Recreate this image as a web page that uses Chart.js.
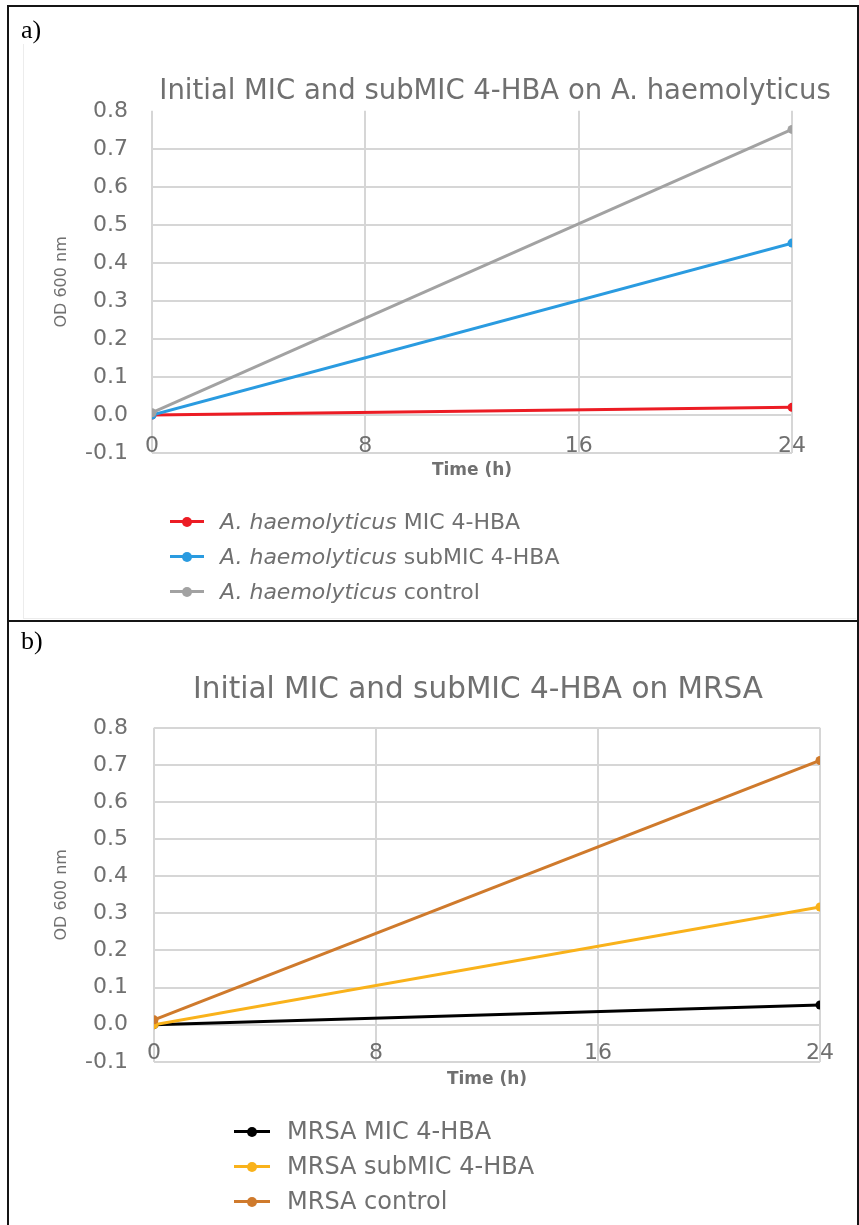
<!DOCTYPE html>
<html>
<head>
<meta charset="utf-8">
<script src="https://cdn.jsdelivr.net/npm/chart.js@4.4.1/dist/chart.umd.min.js"></script>
<style>
  html, body { margin: 0; padding: 0; background: #fff; width: 859px; height: 1225px; overflow: hidden; }
  #page { position: relative; width: 859px; height: 1225px; }
  .frame { position: absolute; left: 7px; top: 5px; width: 848px; height: 1240px; border: 2px solid #151515; }
  .divider { position: absolute; left: 7px; top: 620px; width: 852px; height: 2px; background: #151515; }
  .excel-frame { position: absolute; left: 23px; top: 44px; width: 832px; height: 574px;
                 border-left: 1px solid #ececec; border-bottom: 1px solid #ececec; }
  .tag { position: absolute; left: 21px; font-family: "Liberation Serif", serif; font-size: 26px; color: #000; line-height: 30px; }
  canvas { position: absolute; left: 0; }
  .legend { position: absolute; font-family: "DejaVu Sans", sans-serif; color: #707070; }
  .item { position: relative; height: 35px; line-height: 35px; white-space: nowrap; }
  .swatch { position: absolute; left: 0; top: 16px; height: 3px; }
  .swatch::after { content: ""; position: absolute; top: -3.5px; width: 10px; height: 10px; border-radius: 50%; background: inherit; }
  .txt { position: absolute; top: 0; }
</style>
</head>
<body>
<div id="page">
  <div class="excel-frame"></div>
  <canvas id="chartA" width="859" height="500" style="top:0px"></canvas>
  <canvas id="chartB" width="859" height="480" style="top:621px"></canvas>
  <div class="frame"></div>
  <div class="divider"></div>
  <div class="tag" style="top:15px">a)</div>
  <div class="tag" style="top:626px">b)</div>
  <div class="legend" id="legendA" style="left:170px; top:504px; font-size:22px"></div>
  <div class="legend" id="legendB" style="left:234px; top:1114px; font-size:24px"></div>
</div>
<script>
// Sampling times (h) and axis ticks
const timeHours = [0, 24];
const timeTicks = [0, 8, 16, 24];
const odTicks = [-0.1, 0, 0.1, 0.2, 0.3, 0.4, 0.5, 0.6, 0.7, 0.8];

// a) A. haemolyticus, OD600
const haemSpecies = 'A. haemolyticus';
const haemLabels = ['A. haemolyticus MIC 4-HBA', 'A. haemolyticus subMIC 4-HBA', 'A. haemolyticus control'];
const haemMIC = [0.000, 0.020];
const haemSubMIC = [0.000, 0.452];
const haemControl = [0.006, 0.751];

// b) MRSA, OD600
const mrsaLabels = ['MRSA MIC 4-HBA', 'MRSA subMIC 4-HBA', 'MRSA control'];
const mrsaMIC = [0.000, 0.053];
const mrsaSubMIC = [0.000, 0.317];
const mrsaControl = [0.013, 0.712];

const TEXT = '#707070';
const GRID = '#d6d6d6';
const FONT = '"DejaVu Sans", sans-serif';

function series(label, values, color, order) {
  return {
    label,
    data: timeHours.map((t, i) => ({ x: t, y: values[i] })),
    borderColor: color,
    backgroundColor: color,
    pointBackgroundColor: color,
    pointBorderWidth: 0,
    pointRadius: 4.5,
    borderWidth: 3,
    order
  };
}

// Centre the chart title on a chosen x position of the panel rather than on the plot area
const panelTitle = {
  id: 'panelTitle',
  afterLayout(chart, args, opts) {
    const t = chart.titleBlock;
    if (!t || opts.centerX == null) return;
    t.left = opts.centerX - 420;
    t.right = opts.centerX + 420;
  }
};

function buildChart(canvas, cfg) {
  return new Chart(canvas, {
    type: 'line',
    data: { datasets: cfg.datasets },
    plugins: [panelTitle],
    options: {
      responsive: false,
      animation: false,
      devicePixelRatio: 1,
      layout: { padding: cfg.padding },
      plugins: {
        legend: { display: false },
        tooltip: { enabled: false },
        title: {
          display: true,
          text: cfg.title,
          color: TEXT,
          font: { family: FONT, size: cfg.titleSize, weight: 'normal' },
          padding: { top: 0, bottom: cfg.titleGap }
        },
        panelTitle: { centerX: cfg.titleCenter }
      },
      scales: {
        x: {
          type: 'linear',
          min: 0,
          max: 24,
          afterBuildTicks: s => { s.ticks = timeTicks.map(v => ({ value: v })); },
          afterFit: s => { s.height = 28; },
          grid: { color: GRID, lineWidth: 2, drawTicks: false },
          border: { display: false },
          // labels sit just above the bottom edge of the plot
          ticks: { color: TEXT, font: { family: FONT, size: 22 }, mirror: true, padding: cfg.xTickPad, maxRotation: 0, autoSkip: false },
          title: { display: true, text: 'Time (h)', color: TEXT, font: { family: FONT, size: 17, weight: 'bold' }, padding: 0 }
        },
        y: {
          type: 'linear',
          min: -0.1,
          max: 0.8,
          afterBuildTicks: s => { s.ticks = odTicks.map(v => ({ value: v })); },
          afterFit: s => { s.width = cfg.yWidth; },
          grid: {
            color: c => (cfg.hideTopGrid && c.tick && Math.abs(c.tick.value - 0.8) < 1e-6) ? 'rgba(0,0,0,0)' : GRID,
            lineWidth: 2,
            drawTicks: false
          },
          border: { display: false },
          ticks: {
            color: TEXT,
            font: { family: FONT, size: 22 },
            padding: cfg.yTickPad,
            callback: v => (Math.abs(v) < 1e-9 ? 0 : v).toFixed(1)
          },
          title: { display: true, text: 'OD 600 nm', color: TEXT, font: { family: FONT, size: 16 }, padding: { top: 12, bottom: 0 } }
        }
      }
    }
  });
}

function buildLegend(el, chart, species, lineLen, textLeft) {
  chart.data.datasets.forEach(ds => {
    const item = document.createElement('div');
    item.className = 'item';
    const sw = document.createElement('div');
    sw.className = 'swatch';
    sw.style.width = lineLen + 'px';
    sw.style.background = ds.borderColor;
    item.appendChild(sw);
    const txt = document.createElement('span');
    txt.className = 'txt';
    txt.style.left = textLeft + 'px';
    if (species && ds.label.startsWith(species)) {
      const it = document.createElement('i');
      it.textContent = species;
      txt.appendChild(it);
      txt.appendChild(document.createTextNode(ds.label.slice(species.length)));
    } else {
      txt.textContent = ds.label;
    }
    item.appendChild(txt);
    el.appendChild(item);
  });
  const dotStyle = document.createElement('style');
  dotStyle.textContent = '#' + el.id + ' .swatch::after{left:' + (lineLen / 2 - 5) + 'px;}';
  document.head.appendChild(dotStyle);
}

const chartA = buildChart(document.getElementById('chartA'), {
  title: 'Initial MIC and subMIC 4-HBA on A. haemolyticus',
  titleSize: 27.5,
  titleCenter: 495,
  titleGap: 2.8,
  padding: { top: 75, left: 40, right: 67, bottom: 19 },
  yWidth: 112,
  yTickPad: 24,
  xTickPad: -6,
  hideTopGrid: true,
  datasets: [
    series(haemLabels[0], haemMIC, '#ec1c24', 3),
    series(haemLabels[1], haemSubMIC, '#2a9be0', 2),
    series(haemLabels[2], haemControl, '#a2a2a2', 1)
  ]
});

const chartB = buildChart(document.getElementById('chartB'), {
  title: 'Initial MIC and subMIC 4-HBA on MRSA',
  titleSize: 29.5,
  titleCenter: 478,
  titleGap: 20.1,
  padding: { top: 51.3, left: 40, right: 39, bottom: 8 },
  yWidth: 114,
  yTickPad: 26,
  xTickPad: -5,
  hideTopGrid: false,
  datasets: [
    series(mrsaLabels[0], mrsaMIC, '#000000', 3),
    series(mrsaLabels[1], mrsaSubMIC, '#f9b21b', 2),
    series(mrsaLabels[2], mrsaControl, '#cf7a2c', 1)
  ]
});

buildLegend(document.getElementById('legendA'), chartA, haemSpecies, 34, 50);
buildLegend(document.getElementById('legendB'), chartB, null, 36, 53);
</script>
</body>
</html>
